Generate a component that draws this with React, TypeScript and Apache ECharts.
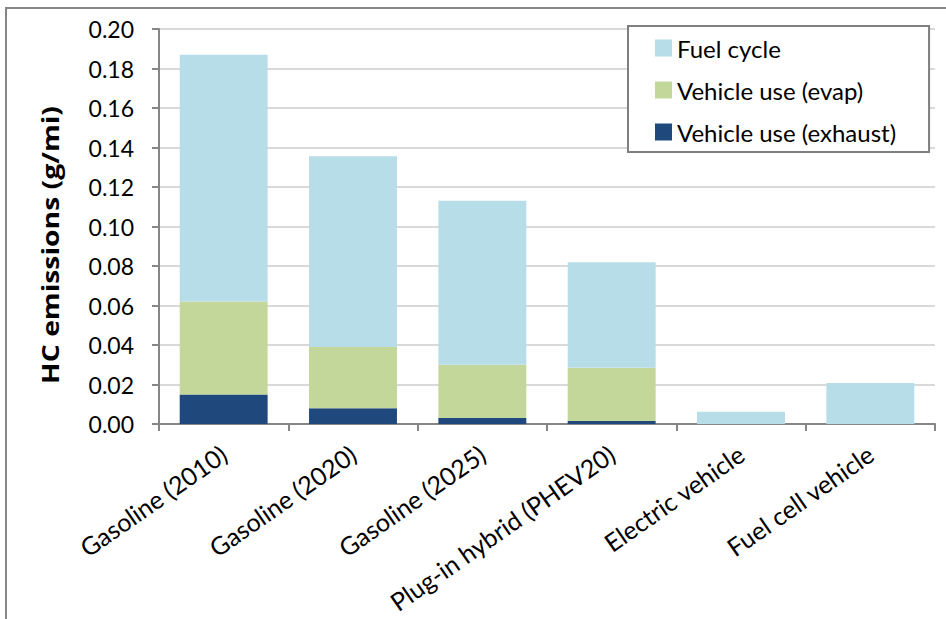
import React, { useEffect, useRef } from "react";
import * as echarts from "echarts";

const categories = [
  "Gasoline (2010)",
  "Gasoline (2020)",
  "Gasoline (2025)",
  "Plug-in hybrid (PHEV20)",
  "Electric vehicle",
  "Fuel cell vehicle",
];
const exhaust = [0.015, 0.008, 0.003, 0.0015, 0, 0];
const evap = [0.047, 0.031, 0.027, 0.027, 0, 0];
const fuelCycle = [0.125, 0.0966, 0.083, 0.0534, 0.0062, 0.0208];
const seriesNames = ["Fuel cycle", "Vehicle use (evap)", "Vehicle use (exhaust)"];
const yAxisTitle = "HC emissions (g/mi)";

const FONT = "Lato, 'Open Sans', sans-serif";

export default function App() {
  const ref = useRef<HTMLDivElement>(null);
  useEffect(() => {
    document.body.style.margin = "0";
    const chart = echarts.init(ref.current!, undefined, { renderer: "svg" });
    chart.setOption({
      animation: false,
      backgroundColor: "#ffffff",
      textStyle: { fontFamily: FONT },
      grid: { left: 159, right: 11, top: 29, bottom: 195, containLabel: false },
      legend: {
        orient: "vertical",
        left: 628,
        top: 26,
        data: seriesNames,
        backgroundColor: "#ffffff",
        borderColor: "#7f7f7f",
        borderWidth: 2,
        borderRadius: 0,
        padding: [10, 33, 8, 27],
        itemWidth: 17,
        itemHeight: 17,
        itemGap: 18,
        icon: "rect",
        textStyle: { fontFamily: FONT, fontSize: 24, color: "#000000" },
      },
      xAxis: {
        type: "category",
        data: categories,
        axisLine: { lineStyle: { color: "#868686", width: 2 } },
        axisTick: { show: true, length: 7, lineStyle: { color: "#868686", width: 2 } },
        axisLabel: {
          rotate: 35,
          margin: 27,
          fontFamily: FONT,
          fontSize: 25,
          color: "#000000",
          interval: 0,
        },
      },
      yAxis: {
        type: "value",
        min: 0,
        max: 0.2,
        interval: 0.02,
        axisLine: { show: true, lineStyle: { color: "#868686", width: 2 } },
        axisTick: { show: true, length: 7, lineStyle: { color: "#868686", width: 2 } },
        splitLine: { lineStyle: { color: "#d9d9d9", width: 2 } },
        axisLabel: {
          margin: 25,
          fontFamily: FONT,
          fontSize: 23,
          color: "#000000",
          formatter: (v: number) => v.toFixed(2),
        },
      },
      series: [
        {
          name: "Vehicle use (exhaust)",
          type: "bar",
          stack: "total",
          data: exhaust,
          barCategoryGap: "32%",
          itemStyle: { color: "#1f497d" },
        },
        {
          name: "Vehicle use (evap)",
          type: "bar",
          stack: "total",
          data: evap,
          barCategoryGap: "32%",
          itemStyle: { color: "#c4d79b" },
        },
        {
          name: "Fuel cycle",
          type: "bar",
          stack: "total",
          data: fuelCycle,
          barCategoryGap: "32%",
          itemStyle: { color: "#b7dde8" },
        },
      ],
      graphic: [
        {
          type: "rect",
          shape: { x: 6, y: 8, width: 1200, height: 1000 },
          style: { fill: "none", stroke: "#868686", lineWidth: 2 },
          silent: true,
          z: -1,
        },
        {
          type: "text",
          x: 50,
          y: 245,
          rotation: Math.PI / 2,
          scaleX: 1.18,
          style: {
            text: yAxisTitle,
            fontFamily: "'Open Sans', Lato, sans-serif",
            fontSize: 24,
            fontWeight: "bold",
            fill: "#000000",
            align: "center",
            verticalAlign: "middle",
          },
        },
      ],
    });
    return () => chart.dispose();
  }, []);
  return <div ref={ref} style={{ width: 946, height: 619 }} />;
}
